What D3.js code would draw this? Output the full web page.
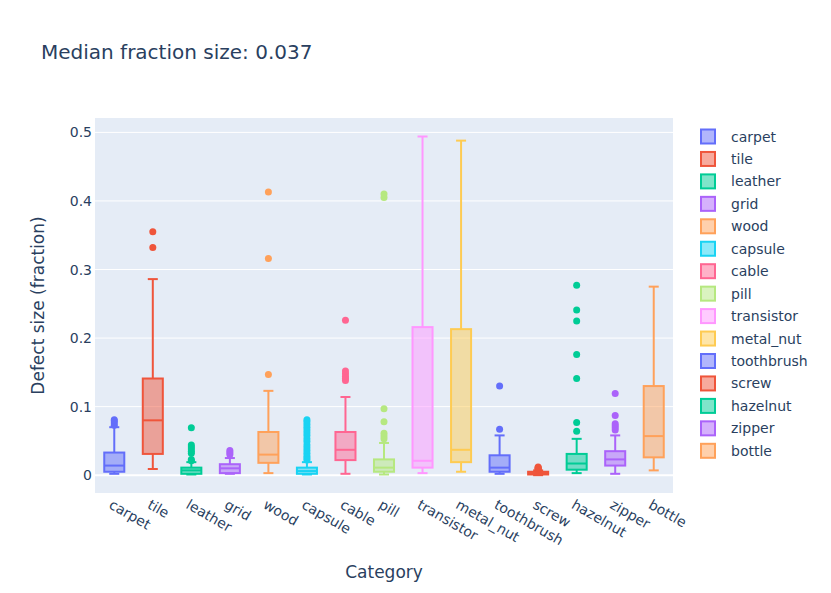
<!DOCTYPE html>
<html>
<head>
<meta charset="utf-8">
<script src="https://cdn.jsdelivr.net/npm/d3@7/dist/d3.min.js"></script>
<style>
  body { margin: 0; background: #fff; }
  svg { display: block; }
  text { font-family: "DejaVu Sans", Verdana, sans-serif; fill: #2a3f5f; }
</style>
</head>
<body>
<svg id="chart" width="831" height="593"></svg>
<script>
const categories = ["carpet","tile","leather","grid","wood","capsule","cable","pill","transistor","metal_nut","toothbrush","screw","hazelnut","zipper","bottle"];
const lowerFence = [0.002,0.009,0.001,0.002,0.003,0.001,0.002,0.001,0.003,0.005,0.002,0.000,0.003,0.002,0.007];
const q1Values   = [0.005,0.031,0.002,0.003,0.018,0.002,0.022,0.005,0.011,0.019,0.005,0.001,0.008,0.014,0.026];
const medians    = [0.014,0.080,0.007,0.010,0.030,0.006,0.037,0.011,0.021,0.037,0.011,0.003,0.017,0.023,0.057];
const q3Values   = [0.033,0.141,0.011,0.016,0.063,0.011,0.063,0.023,0.216,0.213,0.029,0.005,0.031,0.035,0.130];
const upperFence = [0.070,0.286,0.019,0.025,0.123,0.019,0.114,0.047,0.494,0.488,0.058,0.007,0.053,0.058,0.275];
const outliers = [
  [0.073,0.076,0.079,0.081],
  [0.332,0.355],
  [0.021,0.023,0.032,0.035,0.038,0.041,0.044,0.069],
  [0.030,0.033,0.036],
  [0.147,0.316,0.413],
  [0.022,0.025,0.028,0.032,0.036,0.040,0.044,0.049,0.053,0.058,0.062,0.066,0.070,0.074,0.078,0.081],
  [0.138,0.141,0.144,0.148,0.152,0.226],
  [0.053,0.057,0.061,0.078,0.097,0.405,0.410],
  [],
  [],
  [0.067,0.130],
  [0.008,0.009,0.010,0.011,0.012],
  [0.064,0.077,0.141,0.176,0.225,0.241,0.277],
  [0.066,0.069,0.072,0.075,0.087,0.119],
  []
];
const yTicks = [0, 0.1, 0.2, 0.3, 0.4, 0.5];
const yTickLabels = ["0", "0.1", "0.2", "0.3", "0.4", "0.5"];
const titleText = "Median fraction size: 0.037";
const xTitle = "Category";
const yTitle = "Defect size (fraction)";
const palette = ["#636efa","#EF553B","#00cc96","#ab63fa","#FFA15A","#19d3f3","#FF6692","#B6E880","#FF97FF","#FECB52"];

const svg = d3.select("#chart");
const plot = {left: 95, right: 673, top: 118, bottom: 493};
const x = d3.scaleBand().domain(categories).range([plot.left, plot.right]).paddingInner(0).paddingOuter(0);
const y = d3.scaleLinear().domain([-0.026, 0.521]).range([plot.bottom, plot.top]);
const color = i => palette[i % palette.length];

// background
svg.append("rect").attr("x", plot.left).attr("y", plot.top)
  .attr("width", plot.right - plot.left).attr("height", plot.bottom - plot.top)
  .attr("fill", "#E5ECF6");

// gridlines
svg.append("g").selectAll("line").data(yTicks).join("line")
  .attr("x1", plot.left).attr("x2", plot.right)
  .attr("y1", d => y(d)).attr("y2", d => y(d))
  .attr("stroke", "#fff").attr("stroke-width", d => d === 0 ? 2 : 1);

// y tick labels
svg.append("g").selectAll("text").data(yTicks).join("text")
  .attr("x", plot.left - 3).attr("y", d => y(d)).attr("dy", "0.36em")
  .attr("text-anchor", "end").attr("font-size", 14)
  .text((d, i) => yTickLabels[i]);

// x tick labels
svg.append("g").selectAll("text").data(categories).join("text")
  .attr("transform", d => `translate(${x(d) + x.bandwidth()/2 - 1},${plot.bottom + 5.3}) rotate(30)`)
  .attr("dy", "0.75em")
  .attr("text-anchor", "start").attr("font-size", 14)
  .text(d => d);

// boxes
const bw = x.bandwidth() * 0.52;
const cw = bw * 0.5;
const g = svg.append("g");
categories.forEach((c, i) => {
  const cx = x(c) + x.bandwidth() / 2;
  const col = color(i);
  const bg = g.append("g");
  // whiskers
  bg.append("line").attr("x1", cx).attr("x2", cx).attr("y1", y(q3Values[i])).attr("y2", y(upperFence[i]))
    .attr("stroke", col).attr("stroke-width", 2);
  bg.append("line").attr("x1", cx).attr("x2", cx).attr("y1", y(q1Values[i])).attr("y2", y(lowerFence[i]))
    .attr("stroke", col).attr("stroke-width", 2);
  [upperFence[i], lowerFence[i]].forEach(v => {
    bg.append("line").attr("x1", cx - cw/2).attr("x2", cx + cw/2).attr("y1", y(v)).attr("y2", y(v))
      .attr("stroke", col).attr("stroke-width", 2);
  });
  // box
  bg.append("rect").attr("x", cx - bw/2).attr("width", bw)
    .attr("y", y(q3Values[i])).attr("height", y(q1Values[i]) - y(q3Values[i]))
    .attr("fill", col).attr("fill-opacity", 0.5).attr("stroke", col).attr("stroke-width", 2);
  bg.append("line").attr("x1", cx - bw/2).attr("x2", cx + bw/2)
    .attr("y1", y(medians[i])).attr("y2", y(medians[i]))
    .attr("stroke", col).attr("stroke-width", 2);
  // outliers
  bg.selectAll("circle").data(outliers[i]).join("circle")
    .attr("cx", cx).attr("cy", d => y(d)).attr("r", 3.5).attr("fill", col);
});

// title
svg.append("text").attr("x", 41).attr("y", 59).attr("font-size", 20).text(titleText);
// axis titles
svg.append("text").attr("x", (plot.left + plot.right) / 2).attr("y", 578)
  .attr("text-anchor", "middle").attr("font-size", 17).text(xTitle);
svg.append("text").attr("transform", `translate(44,${(plot.top + plot.bottom)/2}) rotate(-90)`)
  .attr("text-anchor", "middle").attr("font-size", 17).text(yTitle);

// legend
const legend = svg.append("g");
categories.forEach((c, i) => {
  const ly = 136.5 + i * 22.45;
  const col = color(i);
  legend.append("rect").attr("x", 701).attr("y", ly - 7).attr("width", 14).attr("height", 14)
    .attr("fill", col).attr("fill-opacity", 0.5).attr("stroke", col).attr("stroke-width", 2);
  legend.append("text").attr("x", 731).attr("y", ly).attr("dy", "0.36em").attr("font-size", 14).text(c);
});
</script>
</body>
</html>
